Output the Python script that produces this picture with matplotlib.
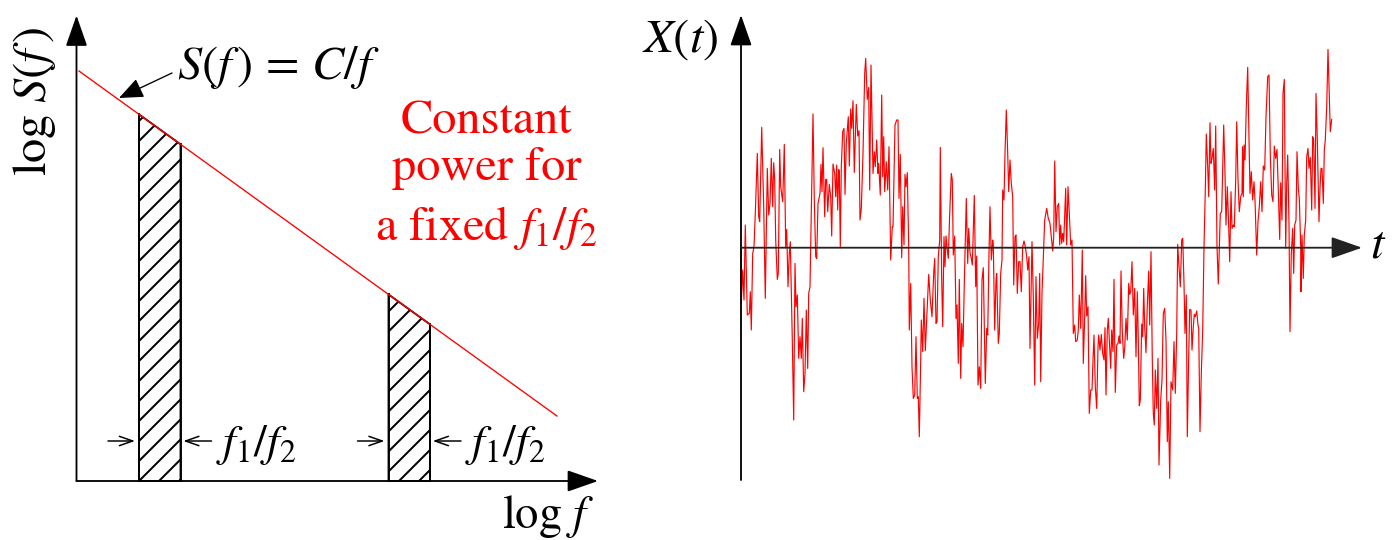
import numpy as np
import matplotlib
matplotlib.use('Agg')
import matplotlib.pyplot as plt

W, H, DPI = 1394, 540, 120
plt.rcParams['mathtext.fontset'] = 'stix'
plt.rcParams['font.family'] = ['STIXGeneral', 'DejaVu Serif']
plt.rcParams['hatch.linewidth'] = 1.2

# ---------------- left panel data (log f , log S) ----------------
line_logf = [0.025, 4.805]
line_logS = [5.68, 0.90]
band_left = [0.625, 3.12]
band_width = 0.415
band_label = r'$f_1/f_2$'
xlabel_left = r'$\log\,f$'
ylabel_left = r'$\log\,S(f\,)$'
law_label = r'$S(f\,)\,=\,C/f$'
note_lines = ['Constant', 'power for', r'a fixed $f_1/f_2$']

# ---------------- right panel data (t , X(t)) ----------------
series_t = [
    0, 0.3, 1.7, 3, 4.3, 6.3, 8.3, 9.3, 10.3, 11.7, 13, 14.3, 16.3, 17.7, 18.7, 20.7, 22.7, 24.3, 26.3, 27.7,
    29, 30.3, 31.7, 32.7, 33.7, 34.7, 36.3, 37.3, 38.7, 39.7, 41.7, 43.3, 44.7, 45.7, 47, 48.3, 49.3, 51.3, 52.7, 54,
    55, 56.3, 57.7, 59, 60.3, 61.3, 62.7, 64, 65.3, 66.7, 67.7, 69, 70.3, 72, 73.3, 74.7, 75.7, 77, 79, 80,
    81, 82, 83.7, 84.7, 85.7, 86.7, 88.3, 89.7, 90.7, 92, 93.7, 94.7, 95.7, 96.7, 97.7, 98.3, 99.3, 100.3, 101.7, 103,
    104, 105.3, 107.3, 108.3, 109.7, 110.7, 112, 113.3, 115.3, 116.7, 118, 119, 120.3, 122, 123.7, 124.7, 126.3, 127.7, 128.7, 130,
    132, 133.3, 134.3, 135.7, 137, 137.7, 139.3, 140.7, 141.7, 142.7, 143.7, 145.3, 146.7, 148, 149.7, 151.3, 152, 154, 155.7, 157,
    158, 159.3, 160.7, 161.7, 163, 164, 165, 166.3, 167.7, 168.3, 169.7, 171, 172.3, 173.7, 175, 176.3, 177.3, 178.3, 179.7, 180.3,
    181.7, 183, 184.3, 186, 187.7, 189.3, 191, 192.7, 193.7, 195, 196, 197.3, 198.7, 199.3, 200.7, 201.7, 203, 204, 205, 206.3,
    207.3, 208.7, 210.3, 211.3, 212.3, 213.7, 215, 216, 217.3, 218.3, 219.7, 220.7, 222, 223.3, 225.3, 226.7, 227.7, 229, 230.3, 231.3,
    233.3, 234.7, 235.7, 237, 238.3, 239.7, 241, 242.3, 244.3, 245.7, 246.7, 248, 249, 250.3, 251.7, 252.3, 253.7, 255, 255.7, 257.3,
    258.3, 259.7, 261, 261.7, 263, 264, 265.3, 266.7, 267.7, 269, 270.3, 271.7, 272.7, 274, 275, 276.3, 277.7, 279, 280.3, 281.7,
    283, 284.3, 285.7, 286.7, 288, 289, 291, 292.3, 293.7, 295, 296.3, 297.7, 298.7, 299.7, 301, 302.3, 303.7, 305.7, 307.3, 309,
    310, 311.7, 312.7, 313.7, 315, 316.3, 317.7, 318.7, 319.7, 320.7, 321.7, 322.7, 324.7, 325.7, 327, 328.3, 329.7, 331, 332.3, 333.7,
    334.7, 336.3, 337.3, 338.3, 339.7, 341.3, 342.3, 343.7, 344.7, 345.7, 347, 348.3, 349.7, 351, 352, 353, 354.3, 355.7, 357, 357.7,
    359, 360.3, 361.7, 363, 364, 365, 366.3, 367.3, 368.7, 369.7, 370.7, 372, 373, 374.3, 375.7, 377, 378, 379, 380, 381.3,
    382.7, 383.7, 385, 386.3, 387.7, 388.7, 389.7, 391, 392.3, 393.7, 395, 396.3, 397.3, 398.3, 399.3, 400.7, 401.7, 402.7, 403.7, 405,
    406.3, 407.7, 408.7, 410, 411.3, 412.3, 413.3, 414.3, 415.7, 417, 418, 419.7, 421, 422.3, 423.7, 425, 426.3, 427.3, 428.7, 430,
    431.7, 433, 434.3, 435.7, 436.7, 438, 439.3, 440.7, 441.7, 443, 444, 445.3, 446.3, 447.7, 448.7, 450, 451, 452.3, 453.3, 454.3,
    455.7, 457, 457.7, 459, 460.3, 461.7, 463, 464.3, 465.3, 466.7, 467.7, 469, 470, 471, 472.3, 473.7, 474.7, 476, 477.3, 478.3,
    479.3, 480.7, 481.7, 482.7, 484, 485, 486.3, 487.7, 488.7, 490, 491, 492.3, 493.3, 494.7, 495.7, 497, 498.3, 499.7, 501, 501.5,
    502.3, 503, 504, 505.3, 506.7, 508, 509, 510.3, 511.7, 513, 514, 515.7, 517, 518.3, 519.7, 521, 522.3, 523.7, 525, 526.7,
    528, 529.3, 530.7, 532, 533.3, 534.7, 536, 537.3, 538.7, 539.7, 541, 542, 543.3, 544.7, 545.7, 546.7, 548, 549, 550.3, 551.7,
    552.7, 553.7, 555, 556, 557.3, 558.3, 559.7, 560, 561, 562.3, 563.3, 564.7, 565.7, 567, 568, 569.3, 570.7, 571.7, 572.7, 574,
    575, 576.3, 578, 579, 580, 581, 582.3, 583.3, 584.3, 585.7, 587, 588.3, 589.3, 590.7,
]
series_x = [
    1, -55.7, -22.3, -52.3, 22.7, -67.3, -65.7, -44, -82.3, -5.7, 1, 34.3, 94.3, 31, 26, 120.3, 41, -50.7, 79.3, 32.7,
    44.3, 89.3, 41, 85, 67.7, 7.7, -31.7, -25.7, 98.3, 61, 46, 103.3, 1, 18.3, -39, -5.7, 6, -92.3, -172.3, -15.7,
    -59, -47.3, -110.7, -89, -110.7, -70.7, -144, -125.7, -62.3, -120.7, -45.7, -39, 34.3, 133.7, 47.7, -9, -10.7, 44.3, 54.3, 83.3,
    56, 100, 31, 68.3, 68.3, 36, 63.3, 51, 11.7, 83.7, 74.3, 51, 82.7, 37.7, 78.3, 76, 1, 81, 116, 119.3,
    53.3, 104.3, 131, 81.7, 138.7, 119.3, 147, 75.3, 143.3, 111.7, 117, 27.7, 39.3, 94.3, 174.3, 189.3, 148.3, 160.3, 57.7, 182.7,
    74.3, 96, 81, 107.7, 74.3, 84.3, 52.7, 152.7, 71, 111, 56, 86, 57.7, 101, -12.3, 21, 21, 122.7, 127.7, 127.7,
    49.3, 93.3, -10, 41, 2.7, 73.3, 61, 75, 1, -82.3, -35.7, -119, -150.7, -147.3, -89, -150.7, -149, -189, -112.3, -72.3,
    -104, -50.7, -103, -65.7, -26.7, -52.3, -69, -25.7, -10.7, -75.7, -74, -9, 7.7, 100.3, -32.3, -79, 11, -19, 11.7, -2.3,
    -10.7, 34.3, 74.3, 67.7, -7.3, 11.7, -70.7, -57.3, -115.7, -31.7, -130.7, -75.7, -99, -35.7, 49.3, -15.7, 19.3, -5, -10.7, -17.3,
    52.3, -39, -8.3, -137.3, -119, -140.7, -32.3, -20, -135.7, -80.7, -87.3, -5.7, 41, -12.3, 7.7, 2.7, -82.3, -32.3, -25.7, -95.7,
    -85.7, -25.7, -12.3, 57.7, 47.7, 94.3, 137.7, 94.3, 56, 87.7, 64.3, 51, -37.3, 11, 12.7, -45.7, -14, -14, -44, 1,
    6.7, 1, -9, -22.3, -9, -100.7, 6, -49, -137.3, -29, -90.7, -75.7, -25.7, -134, -45.7, -9, 27.7, 39.3, 29.3, 24.3,
    14.3, -3.3, 11, 86.7, 16, 41, 44.3, 2.7, 22.7, 4.3, 14.3, 6, 59.3, 2.7, 61, 34.3, 2.7, 7.7, -85.7, -77.3,
    -94, -92.3, -82.3, -47.3, -80.7, -2.3, -115.7, -69, -28, -68.3, -59, -165.7, -142.3, -142.3, -112.3, -87.3, -139, -160.7, -99, -87.3,
    -102.3, -86.7, -105.7, -112.3, -80, -147.3, -82.3, -70.7, -99, -120.7, -82.3, -104, -31.7, -144.7, -97.3, -95.7, -88.3, -95.7, -23.3, -84,
    -110.7, -100.7, -70.7, -92.3, -35.7, -46.7, -44, -14, -67.3, -40.7, -109, -44, -92.3, -158, -152.3, -76.3, -89, -40.7, -79, -105,
    -57.3, -23.3, -77.3, -4, -112.3, -165.7, -177.3, -122.3, -160.7, -110.7, -217.3, -152.3, -132.3, -65.7, -60.7, -92.3, -194, -154, -230.7, -134,
    -142.3, -94, -145.7, -85.7, 3.3, -19, -39, 7.7, 9.3, -35.7, -85.7, -47.3, -189, -109, -61.7, -62.3, -102.3, -79, -66.7, -69,
    -63.3, -77.3, -80.7, -184, -125.7, -82.3, 1, 57.7, 113.7, 81, 51, 125, 84.3, 89.3, 99.3, 57.7, 121.7, 1, -36.3, 1,
    34.3, 36, 81, 122.7, 74.3, 22.7, 61, 21, -14, 56, 19.3, 22.7, 21, 67.7, 126, 67.7, 36, 51, 54.3, 101,
    51, 102.7, 87.7, 141, 180.3, 107.7, 54.3, 76, 47.7, 66, 47.7, -7.3, 26, 41, 66, 36, 81.7, 77.7, 131, 171,
    172.7, 92.7, 52.7, 46, 101.7, 89.3, 98.3, 57.7, 8.3, 65, 27.7, 154.3, 168.3, -0.7, 64.3, 92.7, 24.3, -84, -5.7, 19.3,
    -25.7, 22.7, 27.7, 96, 59.3, 49.3, 1, -44, 12.7, -30.7, 12.7, 27.7, 91, 99.3, 79.3, 90.3, 37.7, 111, 107.7, 39.3,
    154.3, 107.7, 26, 59.3, 79.3, 79.3, 44.3, 97.7, 107.7, 141, 198.3, 151, 116, 128.3,
]
ylabel_right = r'$X(t)$'
xlabel_right = r'$t$'

# ---------------- figure ----------------
fig = plt.figure(figsize=(W / DPI, H / DPI), dpi=DPI)
FS = 29

# left axes: 100 px per unit of log f, 72.18 px per unit of log S
ax1 = fig.add_axes([0, 0, 700 / W, 1])
ax1.set_xlim(-0.765, 6.235)
ax1.set_ylim((481 - 540) / 72.18, 481 / 72.18)
ax1.axis('off')


def lx(px):
    return (px - 76.5) / 100.0


def ly(py):
    return (481 - py) / 72.18


for b in band_left:
    xs = np.linspace(b, b + band_width, 20)
    top = np.interp(xs, line_logf, line_logS)
    ax1.fill_between(xs, 0, top, facecolor='white', edgecolor='black',
                     hatch='//', linewidth=1.1, zorder=2)
    ax1.plot([b, b], [0, top[0]], color='black', lw=1.1, zorder=3)
    ax1.plot([b + band_width] * 2, [0, top[-1]], color='black', lw=1.1, zorder=3)

ax1.plot(line_logf, line_logS, color='#ff0000', lw=0.8, zorder=4)

axis_arrow = dict(arrowstyle='-|>,head_length=16,head_width=5.6', mutation_scale=1,
                  lw=1.1, color='black', shrinkA=0, shrinkB=0)
ax1.annotate('', xy=(0, ly(15.5)), xytext=(0, 0), arrowprops=axis_arrow, zorder=5)
ax1.annotate('', xy=(lx(598), 0), xytext=(0, 0), arrowprops=axis_arrow, zorder=5)

small_arrow = dict(arrowstyle='->,head_length=8,head_width=2.8', mutation_scale=1,
                   lw=0.9, color='black', shrinkA=0, shrinkB=0)
ya = ly(441)
for b in band_left:
    ax1.annotate('', xy=(b - 0.04, ya), xytext=(b - 0.31, ya), arrowprops=small_arrow)
    ax1.annotate('', xy=(b + band_width + 0.028, ya), xytext=(b + band_width + 0.31, ya),
                 arrowprops=small_arrow)
    ax1.text(b + band_width + 0.35, ly(456), band_label, fontsize=27.5,
             ha='left', va='baseline')

ax1.annotate('', xy=(lx(119), ly(98)), xytext=(lx(172), ly(73)),
             arrowprops=dict(arrowstyle='-|>,head_length=12.5,head_width=5.2',
                             mutation_scale=1, lw=0.8, color='black',
                             shrinkA=0, shrinkB=0))
ax1.text(lx(177), ly(79), law_label, fontsize=FS, ha='left', va='baseline')

ax1.text(lx(502), ly(528), xlabel_left, fontsize=28, ha='left', va='baseline')
ax1.text(lx(35), ly(102), ylabel_left, fontsize=FS, ha='center', va='center',
         rotation=90)

for txt, base in zip(note_lines, [133, 180, 240]):
    ax1.text(lx(486.5), ly(base), txt, fontsize=FS, color='#ff0000',
             ha='center', va='baseline')

# right axes: 1 unit = 1 px, origin at (741, 247.7)
ax2 = fig.add_axes([620 / W, 0, (W - 620) / W, 1])
ax2.set_xlim(620 - 741, W - 741)
ax2.set_ylim(247.7 - 540, 247.7)
ax2.axis('off')

ax2.plot(series_t, series_x, color='#ff0000', lw=0.7, zorder=2)
ax2.annotate('', xy=(0, 247.7 - 15), xytext=(0, 247.7 - 480), arrowprops=axis_arrow)
ax2.annotate('', xy=(621, 0), xytext=(0, 0),
             arrowprops=dict(axis_arrow, color='#222222'))
ax2.text(-23, 247.7 - 52, ylabel_right, fontsize=FS, ha='right', va='baseline')
ax2.text(629, 247.7 - 258, xlabel_right, fontsize=FS, ha='left', va='baseline')

fig.savefig('out.png', dpi=DPI)
